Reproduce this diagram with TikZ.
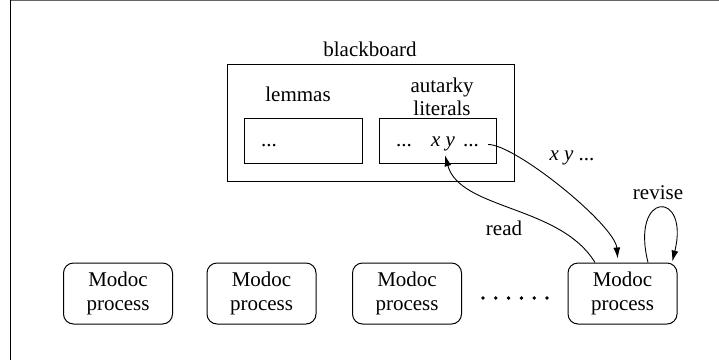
\documentclass[tikz,border=0pt]{standalone}
\usepackage{fontspec}
\setmainfont{Liberation Serif}
\usetikzlibrary{arrows.meta}
\begin{document}
\begin{tikzpicture}[x=1pt,y=-1pt,
  every node/.style={font=\fontsize{21}{24}\selectfont},
  box/.style={draw,line width=1pt,inner sep=0pt},
  proc/.style={draw,line width=1pt,rounded corners=10pt,minimum width=109pt,minimum height=61pt,align=center,inner sep=0pt},
  txt/.style={inner sep=0pt,align=center},
  conn/.style={line width=0.9pt,-{Latex[length=11pt,width=7pt]}},
  dot/.style={fill=black,draw=none}]
\useasboundingbox (0,0) rectangle (719,360);
% frame
\draw[line width=1.2pt] (10.5,0) -- (10.5,360);
\draw[line width=1pt,black!60] (10.5,0.6) -- (719,0.6);
% blackboard
\node[box,minimum width=287pt,minimum height=117pt] (bb) at (370.5,122.5) {};
\node[txt] (bblabel) at (370,49) {blackboard};
\node[txt] (lemlabel) at (298,94) {lemmas};
\node[txt,font=\fontsize{21}{23}\selectfont] (autlabel) at (442,96.5) {autarky\\literals};
\node[box,minimum width=118pt,minimum height=45pt] (lem) at (303,140.5) {};
\node[box,minimum width=117pt,minimum height=45pt] (aut) at (437.5,140.5) {};
\node[txt,anchor=base] (ld) at (269,146.5) {...};
\node[txt,anchor=base] (ad1) at (404,146.5) {...};
\node[txt,anchor=base] (xy) at (443,146.5) {\textit{x y}};
\node[txt,anchor=base] (ad2) at (471,146.5) {...};
% processes
\node[proc] (m1) at (118,293.5) {Modoc\\process};
\node[proc] (m2) at (261.5,293.5) {Modoc\\process};
\node[proc] (m3) at (407,293.5) {Modoc\\process};
\node[proc] (m4) at (622.5,293.5) {Modoc\\process};
\foreach \i in {0,...,5} \fill[dot] (483+12.8*\i,298) circle (1.9pt);
% connectors
\draw[conn,shorten >=4pt] ([xshift=9pt,yshift=2pt]ad2.base east) .. controls (515,144) and (615,225) .. ([xshift=-4.5pt]m4.north);
\node[txt] (xylabel) at (572,158) {\textit{x y} ...};
\draw[conn] ([xshift=-27.5pt]m4.north) .. controls (560,205) and (460,210) .. ([xshift=2pt,yshift=-4pt]xy.south);
\node[txt] (readlabel) at (504,228) {read};
\draw[conn,shorten >=1pt] ([xshift=25.5pt]m4.north) .. controls (630,190) and (690,190) .. ([xshift=49.5pt]m4.north);
\node[txt] (reviselabel) at (658,193) {revise};
\end{tikzpicture}
\end{document}
